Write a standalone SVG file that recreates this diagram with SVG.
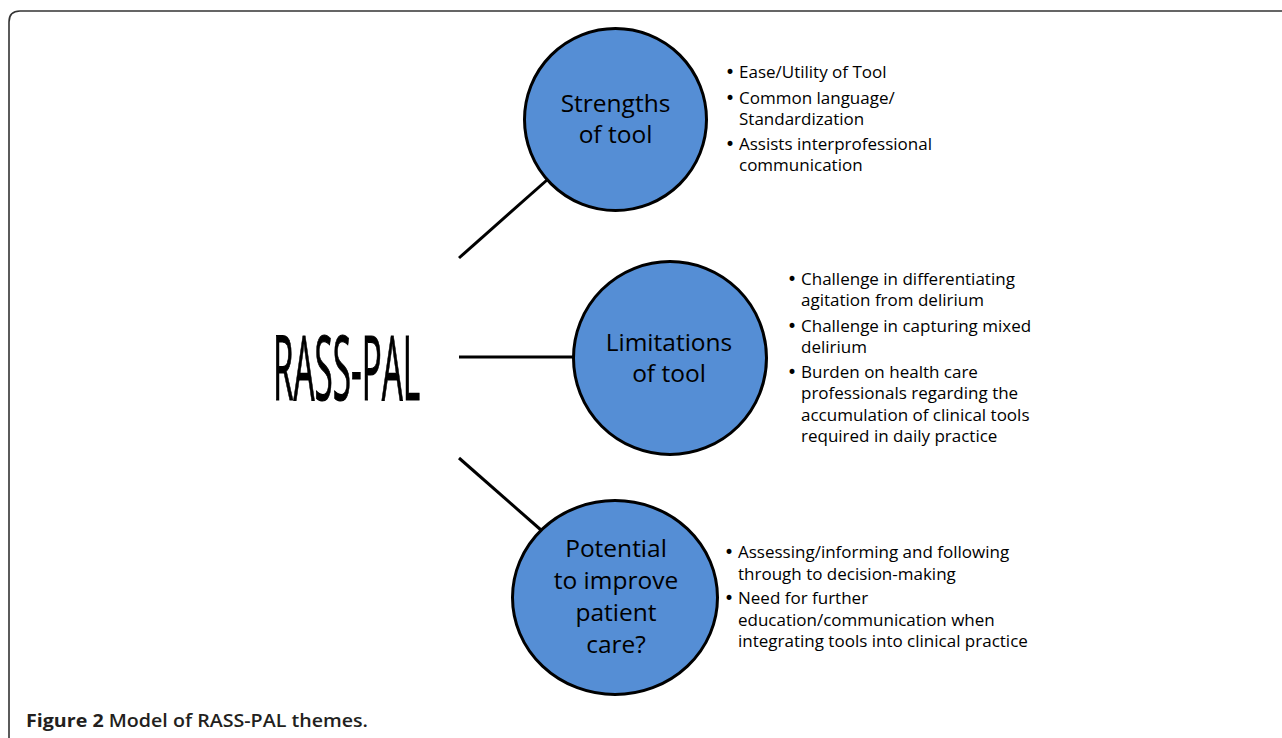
<svg xmlns="http://www.w3.org/2000/svg" width="1282" height="738" viewBox="0 0 1282 738">
<style>
.frame{fill:none;stroke:#333;stroke-width:1.6}
.conn line{stroke:#000;stroke-width:3;stroke-linecap:butt}
.node ellipse,.node circle{fill:#558ED5;stroke:#000;stroke-width:3}
.ctext{font-family:"Open Sans","Liberation Sans",sans-serif;font-size:24.5px;fill:#000;text-anchor:middle}
.btext{font-family:"Open Sans","Liberation Sans",sans-serif;font-size:17px;fill:#000}
.bul{font-family:"DejaVu Sans",sans-serif;font-size:17px;fill:#000}
.main{font-family:"Open Sans","Liberation Sans",sans-serif;font-size:90px;fill:#000;stroke:#000;stroke-width:1.2}
.cap{font-family:"Open Sans","Liberation Sans",sans-serif;font-size:17.5px;fill:#231f20}
</style>
<rect width="1282" height="738" fill="#fff"/>
<path class="frame" d="M9,738 V22 Q9,11 20,11 H1282"/>
<g id="rass-pal">
<text class="main" x="273" y="400" textLength="147" lengthAdjust="spacingAndGlyphs">RASS-PAL</text>
</g>
<g id="connectors" class="conn">
<line x1="459" y1="258" x2="547" y2="180"/>
<line x1="459" y1="357" x2="573" y2="357"/>
<line x1="459" y1="458" x2="541" y2="530"/>
</g>
<g id="strengths" class="node">
<circle cx="615.5" cy="119.5" r="91"/>
<text class="ctext" x="615.5" y="112">Strengths</text>
<text class="ctext" x="615.5" y="143">of tool</text>
</g>
<g id="limitations" class="node">
<circle cx="670" cy="358" r="96.5"/>
<text class="ctext" x="669" y="351">Limitations</text>
<text class="ctext" x="669" y="382">of tool</text>
</g>
<g id="potential" class="node">
<ellipse cx="615" cy="597.5" rx="102.5" ry="97"/>
<text class="ctext" x="616" y="557">Potential</text>
<text class="ctext" x="616" y="589">to improve</text>
<text class="ctext" x="616" y="621">patient</text>
<text class="ctext" x="616" y="653">care?</text>
</g>
<g id="strengths-notes" class="btext">
<text class="bul" x="725" y="78">•</text><text x="739" y="78">Ease/Utility of Tool</text>
<text class="bul" x="725" y="103.5">•</text><text x="739" y="103.5">Common language/</text>
<text x="739" y="124.5">Standardization</text>
<text class="bul" x="725" y="149.5">•</text><text x="739" y="149.5">Assists interprofessional</text>
<text x="739" y="170.5">communication</text>
</g>
<g id="limitations-notes" class="btext">
<text class="bul" x="787" y="285">•</text><text x="801" y="285">Challenge in differentiating</text>
<text x="801" y="306">agitation from delirium</text>
<text class="bul" x="787" y="331.5">•</text><text x="801" y="331.5">Challenge in capturing mixed</text>
<text x="801" y="352.5">delirium</text>
<text class="bul" x="787" y="378">•</text><text x="801" y="378">Burden on health care</text>
<text x="801" y="399">professionals regarding the</text>
<text x="801" y="420.5">accumulation of clinical tools</text>
<text x="801" y="442">required in daily practice</text>
</g>
<g id="potential-notes" class="btext">
<text class="bul" x="724" y="558">•</text><text x="738" y="558">Assessing/informing and following</text>
<text x="738" y="579.5">through to decision-making</text>
<text class="bul" x="724" y="604">•</text><text x="738" y="604">Need for further</text>
<text x="738" y="625.5">education/communication when</text>
<text x="738" y="647">integrating tools into clinical practice</text>
</g>
<text class="cap" x="26" y="727" textLength="342" lengthAdjust="spacingAndGlyphs"><tspan font-weight="700">Figure 2</tspan><tspan font-weight="600"> Model of RASS-PAL themes.</tspan></text>
</svg>
